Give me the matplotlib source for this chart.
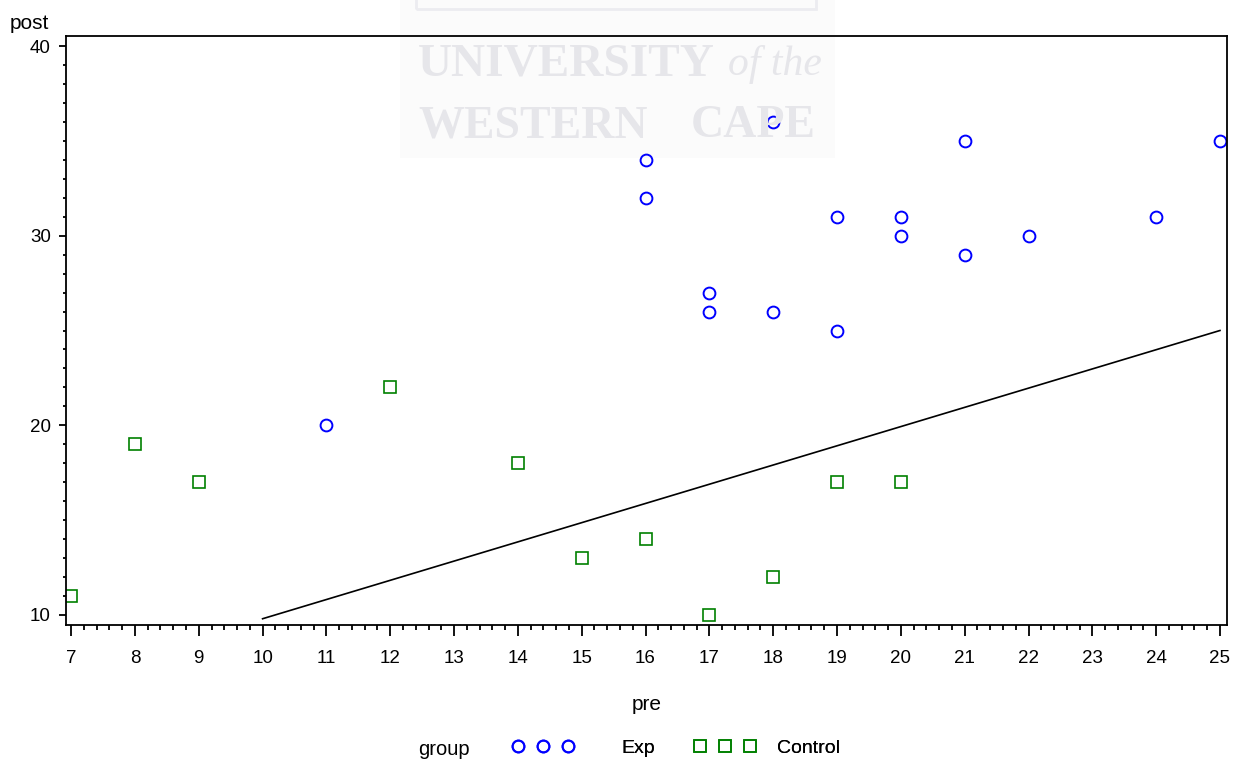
import matplotlib
matplotlib.use("Agg")
import matplotlib.pyplot as plt
from matplotlib.lines import Line2D
from matplotlib.patches import Rectangle
from matplotlib.ticker import MultipleLocator

plt.rcParams['font.family'] = ['Liberation Sans', 'DejaVu Sans']

# data
exp_pre = [11, 16, 16, 17, 17, 18, 18, 19, 19, 20, 20, 21, 21, 22, 24, 25]
exp_post = [20, 34, 32, 27, 26, 36, 26, 31, 25, 31, 30, 35, 29, 30, 31, 35]
ctl_pre = [7, 8, 9, 12, 14, 15, 16, 17, 18, 19, 20]
ctl_post = [11, 19, 17, 22, 18, 13, 14, 10, 12, 17, 17]
line_pre = [10, 25]
line_post = [9.8, 25.0]
x_ticks = list(range(7, 26))
y_ticks = [10, 20, 30, 40]
groups = ["Exp", "Control"]

blue = "#0000ff"
green = "#008000"
wm = "#e6e6ea"

W, H = 1240, 760
fig = plt.figure(figsize=(12.4, 7.6), dpi=100)


def px(x, y):
    # pixel position (from top-left) -> figure fraction
    return x / W, 1 - y / H


# faint scanned watermark behind the plot
fig.patches.append(Rectangle(px(400, 158), 435 / W, 160 / H,
                             transform=fig.transFigure, facecolor="#fbfbfb",
                             edgecolor="none", zorder=-2))
fig.patches.append(Rectangle(px(416, 9), 400 / W, 20 / H,
                             transform=fig.transFigure, facecolor="none",
                             edgecolor="#ececf0", lw=2, zorder=-1))
serif = dict(family="Liberation Serif", color=wm, va="baseline", zorder=0)
fig.text(*px(418, 75), "UNIVERSITY", weight="bold", fontsize=34, ha="left", **serif)
fig.text(*px(728, 75), "of the", style="italic", fontsize=30, ha="left", **serif)
fig.text(*px(418, 137), "WESTERN", weight="bold", fontsize=33, ha="left", **serif)
fig.text(*px(816, 137), "CAPE", weight="bold", fontsize=33, ha="right", **serif)

ax = fig.add_axes([66 / W, 1 - 625 / H, 1161 / W, 589 / H])
ax.patch.set_alpha(0)

ax.plot(line_pre, line_post, color="black", lw=1.2)
ax.plot(exp_pre, exp_post, ls="none", marker="o", ms=8.5, mfc="none",
        mec=blue, mew=1.4)
ax.plot(ctl_pre, ctl_post, ls="none", marker="s", ms=8, mfc="none",
        mec=green, mew=1.2)

ax.set_xlim(6.92, 25.11)
ax.set_ylim(9.47, 40.53)
ax.set_xticks(x_ticks)
ax.set_yticks(y_ticks)
ax.xaxis.set_minor_locator(MultipleLocator(0.2))
ax.yaxis.set_minor_locator(MultipleLocator(1))
ax.tick_params(axis="x", which="major", length=8, width=1.3, pad=10, labelsize=13.5)
ax.tick_params(axis="x", which="minor", length=3.5, width=1.3)
ax.tick_params(axis="y", which="major", length=5, width=1.3, pad=6, labelsize=13.5)
ax.tick_params(axis="y", which="minor", length=2.5, width=1.3)
for s in ax.spines.values():
    s.set_linewidth(1.3)

ax.set_xlabel("pre", fontsize=15, labelpad=20)
fig.text(*px(10, 29), "post", fontsize=15, ha="left", va="baseline")

# legend row: "group", then one entry per group
fig.text(*px(418, 755), "group", fontsize=14.5, ha="left", va="baseline")
handles = [
    Line2D([], [], ls="none", marker="o", ms=8.5, mfc="none", mec=blue, mew=1.4),
    Line2D([], [], ls="none", marker="s", ms=8, mfc="none", mec=green, mew=1.2),
]
lefts = [512, 694]
textpads = [2.47, 1.1]
for h, name, left, tp in zip(handles, groups, lefts, textpads):
    leg = fig.legend([h], [name], loc="center left", bbox_to_anchor=px(left, 748),
                     numpoints=3, frameon=False, fontsize=14, handlelength=3.17,
                     handletextpad=tp, borderpad=0, borderaxespad=0)
    fig.add_artist(leg)

fig.savefig("out.png", dpi=100)
